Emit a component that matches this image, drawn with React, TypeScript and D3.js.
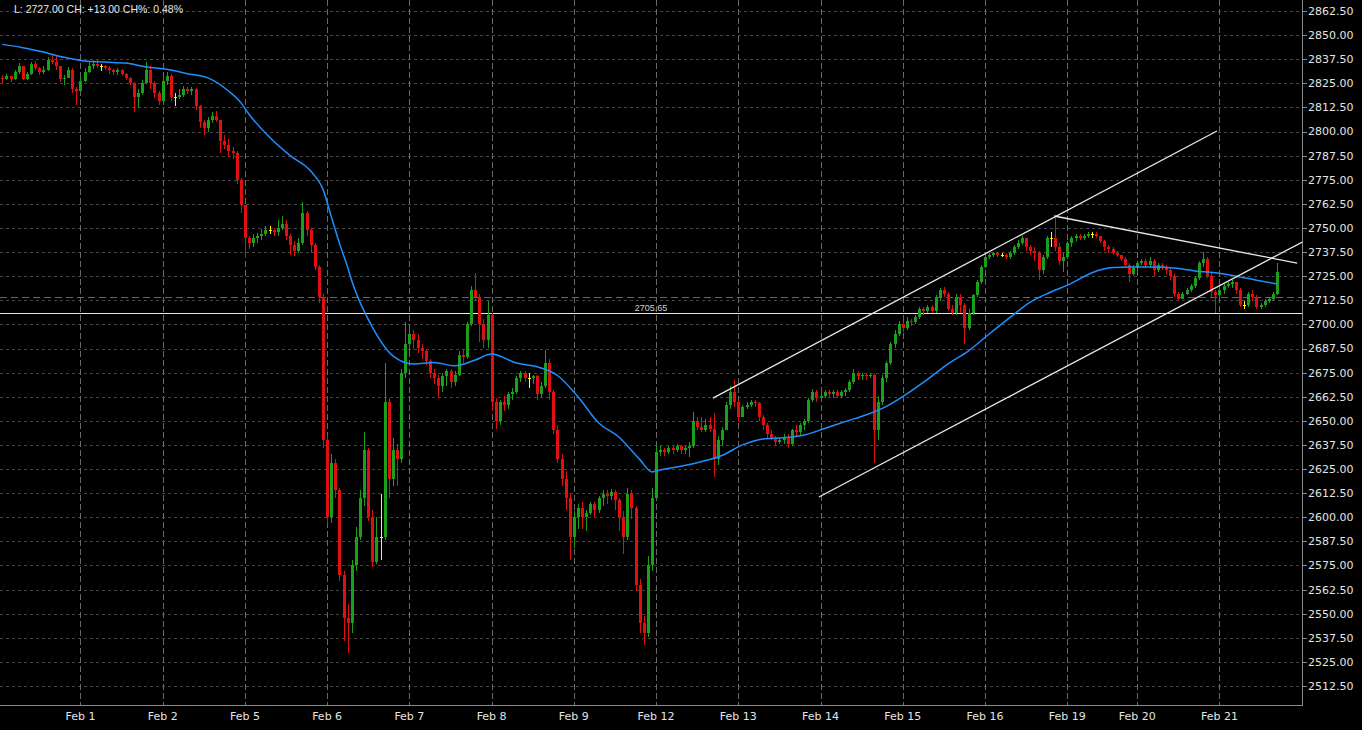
import React from 'react';
import * as d3 from 'd3';

// ---------- data ----------
const headerText = 'L: 2727.00 CH: +13.00 CH%: 0.48%';

const dayLabels = ['Feb 1', 'Feb 2', 'Feb 5', 'Feb 6', 'Feb 7', 'Feb 8', 'Feb 9', 'Feb 12', 'Feb 13', 'Feb 14', 'Feb 15', 'Feb 16', 'Feb 19', 'Feb 20', 'Feb 21'];
const dayStartBars = [19, 39, 59, 79, 99, 119, 139, 159, 179, 199, 219, 239, 259, 276, 296];

const yTickValues = [2512.5, 2525, 2537.5, 2550, 2562.5, 2575, 2587.5, 2600, 2612.5, 2625, 2637.5, 2650, 2662.5, 2675, 2687.5, 2700, 2712.5, 2725, 2737.5, 2750, 2762.5, 2775, 2787.5, 2800, 2812.5, 2825, 2837.5, 2850, 2862.5];

const firstOpen = 2828;

const closes = [
  2827, 2829, 2827, 2831, 2834, 2827, 2830, 2835, 2833, 2831, 2832, 2837, 2836, 2834, 2827, 2828, 2832, 2822, 2821,
  2826, 2831, 2834, 2835, 2834, 2834, 2833, 2832, 2831, 2832, 2830, 2828, 2825, 2818, 2820, 2825, 2832, 2825, 2820, 2816,
  2826, 2829, 2818, 2818, 2819, 2822, 2821, 2822, 2813, 2805, 2802, 2806, 2808, 2806, 2795, 2793, 2790, 2789, 2775, 2762,
  2745, 2742, 2745, 2746, 2747, 2749, 2749, 2748, 2750, 2752, 2746, 2741, 2738, 2742, 2758, 2749, 2741, 2730, 2714, 2640,
  2600, 2628, 2614, 2570, 2548, 2545, 2575, 2590, 2610, 2635, 2600, 2577, 2590, 2590, 2660, 2620, 2635, 2630, 2675, 2690,
  2695, 2692, 2688, 2686, 2681, 2675, 2672, 2668, 2673, 2676, 2670, 2674, 2684, 2683, 2700, 2718, 2714, 2700, 2692, 2705,
  2660, 2650, 2660, 2658, 2664, 2665, 2672, 2675, 2672, 2672, 2673, 2664, 2668, 2680, 2665, 2645, 2630, 2620, 2610, 2590,
  2600, 2605, 2600, 2602, 2607, 2604, 2610, 2612, 2611, 2613, 2609, 2600, 2590, 2612, 2605, 2565, 2545, 2540, 2575, 2610,
  2634, 2635, 2634, 2636, 2635, 2637, 2635, 2636, 2637, 2650, 2647, 2645, 2648, 2646, 2630, 2640, 2645, 2658, 2665, 2660,
  2652, 2657, 2658, 2660, 2659, 2652, 2648, 2643, 2641, 2639, 2640, 2641, 2638, 2645, 2644, 2648, 2650, 2661, 2665, 2662,
  2663, 2665, 2664, 2665, 2663, 2665, 2666, 2670, 2675, 2673, 2674, 2673, 2674, 2645, 2660, 2672, 2680, 2690, 2695, 2700,
  2698, 2702, 2701, 2704, 2708, 2707, 2709, 2707, 2714, 2718, 2716, 2708, 2706, 2714, 2710, 2698, 2706, 2715, 2722, 2730,
  2735, 2736, 2737, 2736, 2736, 2735, 2737, 2740, 2742, 2745, 2740, 2738, 2737, 2728, 2735, 2745, 2745, 2740, 2733, 2735,
  2742, 2745, 2746, 2745, 2746, 2747, 2747, 2746, 2743, 2740, 2739, 2737, 2736, 2734, 2731, 2726, 2729,
  2732, 2733, 2731, 2733, 2728, 2731, 2730, 2728, 2725, 2716, 2713, 2716, 2718, 2720, 2724, 2732, 2734, 2725, 2717, 2715,
  2718, 2720, 2721, 2722, 2718, 2710, 2710, 2716, 2714, 2709, 2710, 2712, 2713, 2716, 2727,
];

const highs = [
  2829.5, 2830, 2828, 2832, 2835.5, 2834, 2831, 2836, 2836.5, 2833.5, 2834, 2838.5, 2839.5, 2839.75, 2834, 2829.5, 2833.5, 2833, 2823,
  2828, 2833, 2836, 2837, 2837, 2835, 2834.5, 2834, 2832.5, 2833, 2832.5, 2830.5, 2828.5, 2825.5, 2822, 2826.5, 2836, 2834, 2826, 2821,
  2828, 2831, 2830, 2820, 2822, 2823.5, 2823, 2823, 2822.5, 2814, 2806, 2807.5, 2810, 2810.5, 2806, 2798, 2796, 2792, 2790, 2776,
  2762, 2746, 2747, 2747.5, 2749.5, 2751, 2751, 2750, 2754, 2756, 2754, 2747, 2743, 2745, 2763.5, 2759, 2750, 2742, 2731, 2716,
  2642, 2633, 2630, 2615, 2572, 2555, 2578, 2595, 2614, 2644, 2636, 2604, 2600, 2612, 2680, 2662, 2641, 2638, 2677, 2701,
  2698, 2697, 2695, 2690, 2687, 2682, 2677, 2674, 2675, 2677, 2677, 2676, 2686, 2687, 2701, 2720, 2726.5, 2716, 2703, 2712,
  2706, 2662, 2661, 2663, 2665, 2667, 2673, 2676, 2676, 2675, 2674, 2674, 2670, 2686.75, 2682, 2666, 2648, 2633, 2624, 2612,
  2603, 2607, 2608, 2604, 2608, 2608, 2611, 2614, 2614, 2614.5, 2614, 2610, 2603, 2615, 2614, 2606, 2568, 2549, 2580, 2615,
  2637, 2637, 2636, 2637, 2637, 2638, 2637.5, 2637, 2639, 2654.5, 2652, 2652, 2651, 2652, 2654, 2642, 2647, 2660, 2668, 2671,
  2661, 2658, 2660, 2661, 2661, 2660, 2653, 2649, 2645, 2642, 2641, 2643, 2643, 2646, 2648, 2649, 2651, 2662, 2666.5, 2666,
  2665, 2666, 2666, 2666, 2666, 2666, 2667, 2671, 2677, 2676, 2675, 2675, 2675, 2675, 2663, 2674, 2681, 2691, 2697, 2702,
  2702, 2704, 2703, 2705, 2709, 2709, 2710, 2710, 2715, 2719, 2719.5, 2717, 2710, 2716, 2716, 2711, 2708, 2716, 2723, 2731,
  2737, 2737, 2737.5, 2737.5, 2737, 2737, 2738, 2741, 2744, 2746, 2745, 2741, 2740, 2738, 2736, 2746, 2748, 2755.75, 2742, 2737,
  2743, 2746, 2747, 2747, 2747, 2748, 2748, 2748, 2746, 2744, 2741, 2740, 2738, 2736, 2735, 2732, 2731,
  2733, 2734, 2734, 2735, 2734, 2732, 2732, 2731, 2729, 2726, 2717, 2717, 2719, 2721, 2725, 2733, 2737.5, 2735, 2727, 2718,
  2720, 2721, 2722, 2723, 2722, 2719, 2712, 2717, 2718, 2715, 2711, 2713, 2714, 2717, 2732,
];

const lows = [
  2825, 2826.5, 2825.5, 2826.5, 2830, 2826.5, 2826.5, 2829.5, 2832, 2829.5, 2830, 2831.5, 2835, 2832, 2825.75, 2824, 2827.5, 2820, 2813.75,
  2820.5, 2825.5, 2830.5, 2832.5, 2833, 2831.5, 2832, 2830, 2829.5, 2829.5, 2829, 2826.75, 2824, 2810, 2812, 2819, 2824.5, 2822, 2817.5, 2813.75,
  2814, 2824, 2816, 2813, 2817, 2818, 2819.5, 2819, 2811, 2802, 2798, 2800, 2804.5, 2805, 2789, 2791, 2787, 2786, 2773, 2758,
  2734.5, 2739, 2740, 2742, 2743.5, 2746, 2747, 2746, 2746, 2749, 2744, 2736, 2735.5, 2737, 2741, 2746, 2737, 2728, 2711, 2636,
  2596.5, 2597, 2610, 2567, 2536, 2529.5, 2540, 2572, 2588, 2606, 2598, 2574, 2576, 2578, 2588, 2610, 2616, 2616, 2628, 2672,
  2683, 2687, 2685, 2682, 2679, 2672, 2669, 2662, 2665, 2668, 2667, 2668, 2673, 2680, 2682, 2699, 2712, 2691, 2688, 2688,
  2655, 2646, 2648, 2655, 2656, 2661, 2664, 2670, 2670, 2667, 2669, 2661, 2662, 2667, 2661, 2643, 2628, 2616, 2604, 2578,
  2584, 2594, 2594, 2593, 2601, 2600, 2602, 2606, 2607, 2609, 2604, 2593, 2581, 2588, 2599, 2562, 2540, 2534, 2538, 2572,
  2620, 2632, 2632, 2633, 2633, 2634, 2633, 2633, 2631, 2636, 2645, 2644, 2644, 2644, 2620.75, 2627, 2637, 2645, 2656, 2657,
  2650, 2652, 2656, 2657, 2657, 2650, 2645, 2641, 2640, 2637, 2638, 2638, 2636, 2637, 2642, 2642, 2645, 2649, 2660, 2660,
  2660.5, 2662, 2662, 2662, 2662, 2662, 2663, 2665, 2669, 2671, 2671, 2671, 2672, 2628, 2640, 2658, 2670, 2679, 2688, 2694,
  2696, 2697, 2699, 2700, 2703, 2705, 2706, 2706, 2706, 2712, 2714, 2707, 2705, 2705, 2706, 2690, 2697, 2705, 2714, 2721,
  2729, 2734, 2735, 2735, 2735, 2734, 2734, 2736, 2739, 2741, 2738, 2736, 2733, 2723, 2726, 2734, 2740, 2738, 2731, 2727,
  2734, 2740, 2743, 2744, 2744, 2745, 2745, 2745, 2742, 2738, 2737, 2736, 2735, 2733, 2730, 2722, 2725,
  2728, 2731, 2730, 2729, 2725, 2727, 2728, 2726, 2723, 2714, 2712, 2713, 2715, 2717, 2719, 2723, 2730, 2724, 2714, 2706,
  2713, 2716, 2719, 2719, 2716, 2709, 2708, 2709, 2712, 2708, 2708, 2709, 2711, 2712, 2715,
];

// moving average (at these bar positions)
const maBars = [0, 5, 10, 15, 20, 25, 30, 35, 40, 45, 50, 55, 58, 60, 65, 70, 75, 78, 80, 82, 84, 85, 90, 95, 100, 105, 110, 115, 119, 125, 130, 135, 140, 145, 150, 155, 158, 160, 165, 170, 175, 180, 185, 190, 195, 200, 205, 210, 215, 220, 225, 230, 235, 240, 245, 250, 255, 260, 265, 270, 275, 280, 285, 290, 295, 300, 305, 310];
const maValues = [2845.2, 2843.5, 2841.2, 2838.5, 2836.6, 2836, 2835.5, 2833.5, 2832.3, 2830, 2827.8, 2821, 2815, 2809, 2797, 2787.5, 2779.5, 2770, 2756, 2742, 2729.5, 2722.5, 2698.6, 2683.7, 2679.5, 2680.3, 2678.5, 2681.5, 2684.6, 2680, 2678, 2673.5, 2662.5, 2649, 2641.5, 2630, 2623.5, 2624.5, 2626.5, 2628.8, 2632, 2637.5, 2640.6, 2641.2, 2642.6, 2646, 2649.6, 2653, 2657.5, 2664, 2671.5, 2679.5, 2686.3, 2695, 2703.5, 2711.6, 2716.8, 2721.3, 2726.8, 2729.5, 2729.7, 2729.7, 2729.2, 2727.7, 2726.8, 2725, 2722.9, 2721];

// drawn trend lines (bar position, price)
const channelUpperBars = [172.8, 295.4];
const channelUpperValues = [2661.8, 2800.3];
const channelLowerBars = [198.6, 318];
const channelLowerValues = [2610.5, 2744.8];
const resistanceBars = [255.8, 314.9];
const resistanceValues = [2756.2, 2731.8];

const levelValue = 2705.65;
const levelLabel = '2705.65';
const prevCloseValue = 2714;

// ---------- component ----------
const W = 1362;
const H = 730;
const PLOT_R = 1302;
const PLOT_B = 705;

const GREEN = '#1aa01a';
const RED = '#e01010';
const YELLOW = '#ffff00';

export default function App() {
  React.useEffect(() => {
    document.body.style.margin = '0';
    document.body.style.background = '#000';
  }, []);

  const x = d3.scaleLinear().domain([0, 310]).range([2.3, 1277]);
  const y = d3.scaleLinear().domain([2512.5, 2862.5]).range([686, 11]);

  const opens = closes.map((c, i) => (i === 0 ? firstOpen : closes[i - 1]));

  const maLine = d3
    .line<number>()
    .x((_, i) => x(maBars[i]))
    .y((d) => y(d))
    .curve(d3.curveMonotoneX)(maValues) as string;

  const seg = (bars: number[], vals: number[]) => ({
    x1: x(bars[0]),
    y1: y(vals[0]),
    x2: x(bars[1]),
    y2: y(vals[1]),
  });
  const trend = [
    seg(channelUpperBars, channelUpperValues),
    seg(channelLowerBars, channelLowerValues),
    seg(resistanceBars, resistanceValues),
  ];

  const axisFont = '"DejaVu Sans", Verdana, sans-serif';
  const textFont = '"Liberation Sans", Arial, sans-serif';

  return (
    <div style={{ position: 'absolute', left: 0, top: 0, width: W, height: H, background: '#000' }}>
      <svg width={W} height={H} style={{ display: 'block', background: '#000' }}>
        <defs>
          <clipPath id="plot">
            <rect x={0} y={0} width={PLOT_R} height={PLOT_B} />
          </clipPath>
        </defs>

        {/* horizontal grid */}
        <g shapeRendering="crispEdges">
          {yTickValues.map((v) => (
            <line key={'hg' + v} x1={0} x2={PLOT_R} y1={Math.round(y(v)) + 0.5} y2={Math.round(y(v)) + 0.5} stroke="#444" strokeDasharray="3,3" />
          ))}
          {dayStartBars.map((b) => (
            <line key={'vg' + b} x1={Math.round(x(b)) + 0.5} x2={Math.round(x(b)) + 0.5} y1={0} y2={PLOT_B} stroke="#6a6a6a" strokeDasharray="6,3" />
          ))}
          <line x1={0} x2={PLOT_R} y1={Math.round(y(prevCloseValue)) + 0.5} y2={Math.round(y(prevCloseValue)) + 0.5} stroke="#666" strokeDasharray="7,4" />
        </g>

        <g clipPath="url(#plot)">
          {/* level line */}
          <line x1={0} x2={PLOT_R} y1={Math.round(y(levelValue)) + 0.5} y2={Math.round(y(levelValue)) + 0.5} stroke="#e6e6e6" strokeWidth={1.2} />
          <text x={651} y={Math.round(y(levelValue)) - 2} textAnchor="middle" fill="#cfcfcf" fontFamily={textFont} fontSize={9}>
            {levelLabel}
          </text>

          {/* candles */}
          <g shapeRendering="crispEdges">
            {closes.map((c, i) => {
              const o = opens[i];
              const hi = Math.max(highs[i], o, c);
              const lo = Math.min(lows[i], o, c);
              const xc = Math.round(x(i));
              const col = c > o ? GREEN : c < o ? RED : YELLOW;
              const yTop = Math.round(y(Math.max(o, c)));
              const yBot = Math.round(y(Math.min(o, c)));
              return (
                <g key={'c' + i}>
                  <rect x={xc} y={Math.round(y(hi))} width={1} height={Math.max(1, Math.round(y(lo)) - Math.round(y(hi)))} fill={col} />
                  <rect x={xc - 1} y={yTop} width={3} height={Math.max(1, yBot - yTop)} fill={col} />
                </g>
              );
            })}
          </g>

          {/* moving average */}
          <path d={maLine} fill="none" stroke="#1e8fff" strokeWidth={1.5} />

          {/* trend lines */}
          {trend.map((t, i) => (
            <line key={'t' + i} {...t} stroke="#e8e8e8" strokeWidth={1.3} />
          ))}
        </g>

        {/* axes borders */}
        <g shapeRendering="crispEdges">
          <line x1={PLOT_R + 0.5} x2={PLOT_R + 0.5} y1={0} y2={PLOT_B + 1} stroke="#8a8a8a" />
          <line x1={0} x2={PLOT_R + 1} y1={PLOT_B + 0.5} y2={PLOT_B + 0.5} stroke="#8a8a8a" />
          {yTickValues.map((v) => (
            <line key={'yt' + v} x1={PLOT_R} x2={PLOT_R + 5} y1={Math.round(y(v)) + 0.5} y2={Math.round(y(v)) + 0.5} stroke="#8a8a8a" />
          ))}
        </g>

        {/* y labels */}
        {yTickValues.map((v) => (
          <text key={'yl' + v} x={1308} y={y(v)} dy="0.36em" fill="#e4e4e4" fontFamily={axisFont} fontSize={11}>
            {v.toFixed(2)}
          </text>
        ))}

        {/* x labels */}
        {dayStartBars.map((b, i) => (
          <text key={'xl' + b} x={x(b)} y={716} dy="0.36em" textAnchor="middle" fill="#e4e4e4" fontFamily={axisFont} fontSize={11}>
            {dayLabels[i]}
          </text>
        ))}

        {/* header */}
        <text x={14} y={13} fill="#e8e8e8" fontFamily={textFont} fontSize={10.5}>
          {headerText}
        </text>
      </svg>
    </div>
  );
}
